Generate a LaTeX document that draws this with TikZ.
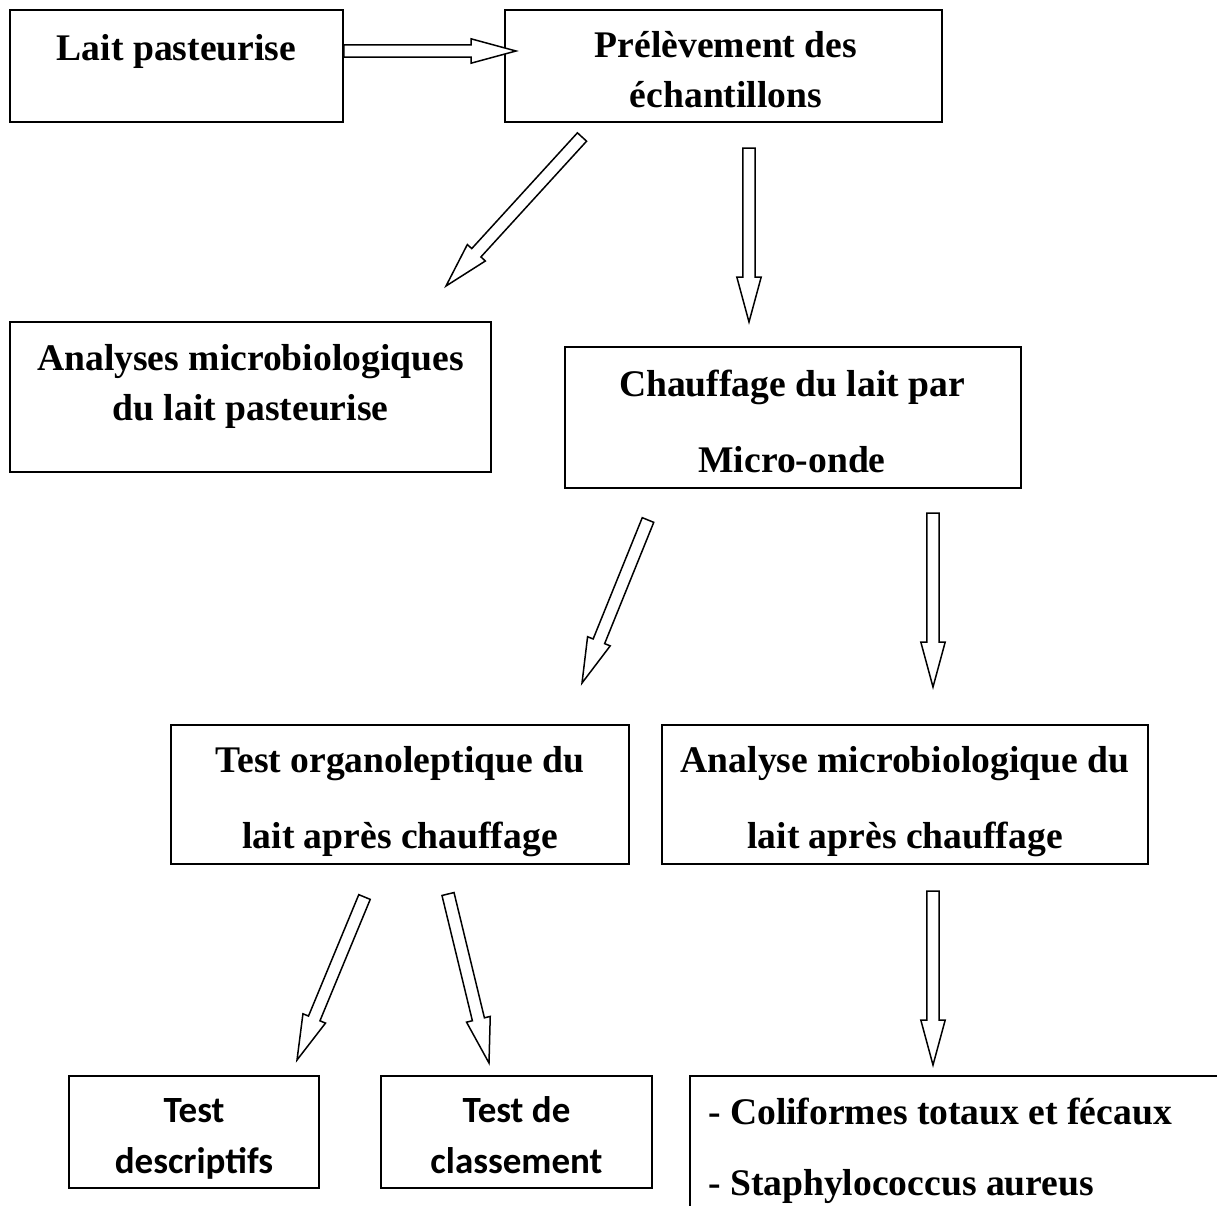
\documentclass[tikz,border=0pt]{standalone}
\usepackage{fontspec}
\setmainfont{Liberation Serif}
\newfontfamily\calib{Carlito}
\usetikzlibrary{calc}
\tikzset{
 box/.style={draw, line width=1.6pt, inner sep=0pt},
 txt/.style={font=\bfseries\fontsize{37.6}{44}\selectfont, inner sep=0pt, anchor=base},
 ctxt/.style={font=\calib\bfseries\fontsize{37}{44}\selectfont, inner sep=0pt, anchor=base},
 blk/.style={draw, line width=1.5pt, fill=white, line join=miter},
}
\newcommand{\blockarrow}[2]{%
 \draw[blk] let \p1=($(#2)-(#1)$), \n1={atan2(\y1,\x1)}, \n2={veclen(\x1,\y1)} in
 ($(#1)+(\n1+90:6.2)$) -- ++(\n1:\n2-45pt) -- ++(\n1+90:6) -- (#2)
 -- ($(#2)+(\n1+180:45)+(\n1-90:12.2)$) -- ++(\n1+90:6) -- ($(#1)+(\n1-90:6.2)$) -- cycle;}
\begin{document}
\begin{tikzpicture}[x=1pt,y=1pt]
\useasboundingbox (0,0) rectangle (1217,-1205);
\clip (0,0) rectangle (1217,-1205);
% boxes
\node[box, minimum width=333pt, minimum height=112pt] (b1) at (176.5,-66) {};
\node[box, minimum width=437pt, minimum height=112pt] (b2) at (723.5,-66) {};
\node[box, minimum width=481pt, minimum height=150pt] (b3) at (250.5,-397) {};
\node[box, minimum width=456pt, minimum height=141pt] (b4) at (793,-417.5) {};
\node[box, minimum width=458pt, minimum height=139pt] (b5) at (400,-794.5) {};
\node[box, minimum width=486pt, minimum height=139pt] (b6) at (905,-794.5) {};
\node[box, minimum width=250pt, minimum height=112pt] (b7) at (194,-1132) {};
\node[box, minimum width=271pt, minimum height=112pt] (b8) at (516.5,-1132) {};
\node[box, minimum width=560pt, minimum height=170pt] (b9) at (970,-1161) {};
% texts
\node[txt] (t1) at (176.5,-60) {Lait pasteurise};
\node[txt] (t2a) at (726,-57) {Prélèvement des};
\node[txt] (t2b) at (726,-107) {échantillons};
\node[txt] (t3a) at (250.5,-370) {Analyses microbiologiques};
\node[txt] (t3b) at (250.5,-420) {du lait pasteurise};
\node[txt] (t4a) at (792,-396) {Chauffage du lait par};
\node[txt] (t4b) at (792,-472) {Micro-onde};
\node[txt] (t5a) at (400,-772) {Test organoleptique du};
\node[txt] (t5b) at (400,-848) {lait après chauffage};
\node[txt] (t6a) at (905,-772) {Analyse microbiologique du};
\node[txt] (t6b) at (905,-848) {lait après chauffage};
\node[ctxt] (t7a) at (194,-1122) {Test};
\node[ctxt] (t7b) at (194,-1173) {descriptifs};
\node[ctxt] (t8a) at (516.5,-1122) {Test de};
\node[ctxt] (t8b) at (516.5,-1173) {classement};
\node[txt, anchor=base west] (t9a) at (708,-1124) {- Coliformes totaux et fécaux};
\node[txt, anchor=base west] (t9b) at (708,-1195) {- Staphylococcus aureus};
% arrow end points
\coordinate (hs) at ($(b1.east)+(0,15)$);
\coordinate (he) at (516,-51);
\coordinate (as) at (582,-137);  \coordinate (ae) at (446,-286);
\coordinate (bs) at (749,-148);  \coordinate (be) at (749,-322);
\coordinate (cs) at (648,-520);  \coordinate (ce) at (582,-683);
\coordinate (ds) at (933,-513);  \coordinate (de) at (933,-687);
\coordinate (es) at (364.5,-897); \coordinate (ee) at (297,-1060);
\coordinate (fs) at (448,-894);  \coordinate (fe) at (489,-1063);
\coordinate (gs) at (933,-891);  \coordinate (ge) at (933,-1065);
\blockarrow{hs}{he}
\blockarrow{as}{ae}
\blockarrow{bs}{be}
\blockarrow{cs}{ce}
\blockarrow{ds}{de}
\blockarrow{es}{ee}
\blockarrow{fs}{fe}
\blockarrow{gs}{ge}
\end{tikzpicture}
\end{document}
